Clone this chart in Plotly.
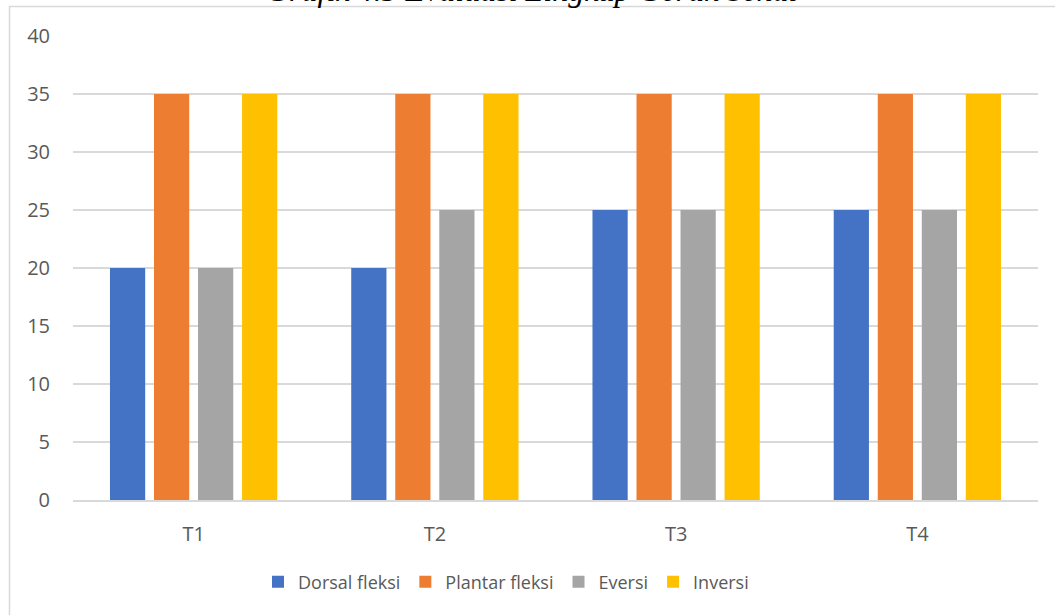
import plotly.graph_objects as go

categories = ["T1", "T2", "T3", "T4"]
dorsal_fleksi = [20, 20, 25, 25]
plantar_fleksi = [35, 35, 35, 35]
eversi = [20, 25, 25, 25]
inversi = [35, 35, 35, 35]
y_ticks = [0, 5, 10, 15, 20, 25, 30, 35, 40]

series = [
    ("Dorsal fleksi", dorsal_fleksi, "#4472C4"),
    ("Plantar fleksi", plantar_fleksi, "#ED7D31"),
    ("Eversi", eversi, "#A5A5A5"),
    ("Inversi", inversi, "#FFC000"),
]

font_family = "Open Sans, Noto Sans, Liberation Sans, sans-serif"

fig = go.Figure()
for name, vals, color in series:
    fig.add_trace(go.Bar(x=categories, y=vals, name=name, marker=dict(color=color, line=dict(width=0))))

L, R, T, B = 73, 17, 36, 115
W, H = 1055, 615
pw = W - L - R
ph = H - T - B

def px_x(px):
    return (px - L) / pw

def px_y(py):
    return (H - B - py) / ph

fig.update_layout(
    width=W, height=H,
    margin=dict(l=L, r=R, t=T, b=B, pad=0),
    paper_bgcolor="white", plot_bgcolor="white",
    barmode="group", bargap=0.27, bargroupgap=0.2,
    font=dict(family=font_family, size=20, color="#595959"),
    showlegend=True,
    legend=dict(orientation="h", x=px_x(506), xanchor="center", y=px_y(582), yanchor="middle",
                font=dict(size=18, color="#595959"), itemwidth=30, traceorder="normal"),
    xaxis=dict(showgrid=False, showline=True, linecolor="#d9d9d9", linewidth=2, ticks="",
               ticklabelstandoff=15, tickfont=dict(size=20, color="#595959")),
    yaxis=dict(range=[0, 40], tickvals=y_ticks, showgrid=True, gridcolor="#d9d9d9", gridwidth=1.5,
               zeroline=False, showline=False, ticks="", ticklabelstandoff=22,
               tickfont=dict(size=20, color="#595959")),
    shapes=[dict(type="rect", xref="paper", yref="paper",
                 x0=px_x(9.5), x1=px_x(1100), y0=px_y(700), y1=px_y(6.5),
                 line=dict(color="#d9d9d9", width=1.5), fillcolor="rgba(0,0,0,0)", layer="below")],
    annotations=[dict(text="Grafik 4.3 Evaluasi Lingkup Gerak Sendi", xref="paper", yref="paper",
                      x=px_x(531), y=px_y(10.5), xanchor="center", yanchor="bottom", showarrow=False,
                      font=dict(family="Liberation Serif, serif", size=32, color="black", style="italic"))],
)

fig.write_html("out.html")
